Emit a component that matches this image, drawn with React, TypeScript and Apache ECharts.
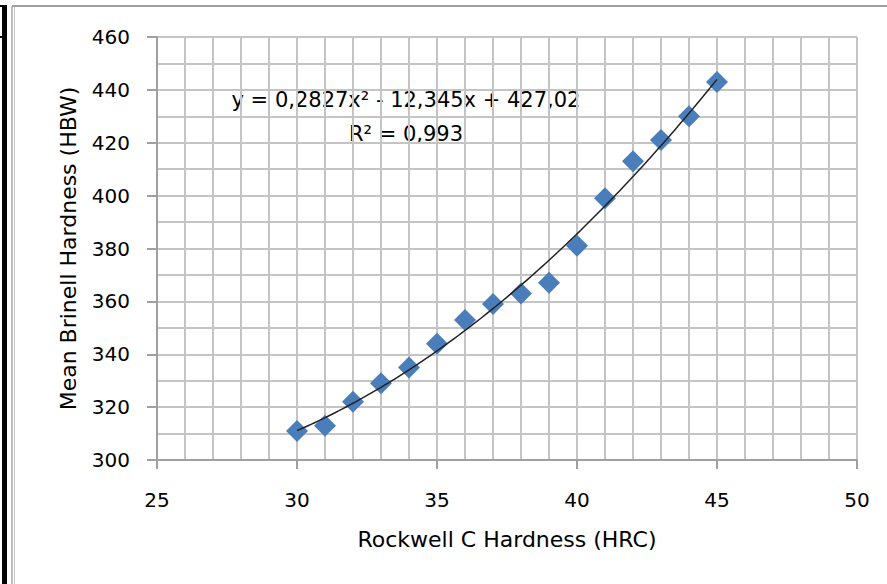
import React, { useEffect, useRef } from "react";
import * as echarts from "echarts";

const hrcValues = [30, 31, 32, 33, 34, 35, 36, 37, 38, 39, 40, 41, 42, 43, 44, 45];
const hbwValues = [311, 313, 322, 329, 335, 344, 353, 359, 363, 367, 381, 399, 413, 421, 430, 443];
// Trendline coefficients as printed on the chart (Excel polynomial fit)
const trendCoefA = 0.2827;
const trendCoefB = -12.345;
const trendCoefC = 427.02;
const equationText = "y = 0,2827x² - 12,345x + 427,02";
const r2Text = "R² = 0,993";
const xAxisTitle = "Rockwell C Hardness (HRC)";
const yAxisTitle = "Mean Brinell Hardness (HBW)";

const FONT = "DejaVu Sans";

export default function App() {
  const ref = useRef<HTMLDivElement>(null);
  useEffect(() => {
    if (!ref.current) return;
    const chart = echarts.init(ref.current, null, { renderer: "svg" });
    const xs0 = hrcValues[0];
    const xs1 = hrcValues[hrcValues.length - 1];
    const trend: number[][] = [];
    for (let i = 0; i <= 60; i++) {
      const x = xs0 + ((xs1 - xs0) * i) / 60;
      trend.push([x, trendCoefA * x * x + trendCoefB * x + trendCoefC]);
    }
    const gridColor = "#c4c4c4";
    chart.setOption({
      animation: false,
      backgroundColor: "#ffffff",
      grid: { left: 157, right: 30, top: 37, bottom: 124, containLabel: false },
      xAxis: {
        type: "value",
        min: 25,
        max: 50,
        interval: 5,
        name: xAxisTitle,
        nameLocation: "middle",
        nameGap: 68,
        nameTextStyle: { fontFamily: FONT, fontSize: 22, color: "#000" },
        axisLine: { show: true, lineStyle: { color: "#a0a0a0", width: 2 } },
        axisTick: { show: true, inside: false, length: 9, lineStyle: { color: "#a0a0a0", width: 2 } },
        axisLabel: { fontFamily: FONT, fontSize: 20, color: "#000", margin: 30 },
        splitLine: { show: true, lineStyle: { color: gridColor, width: 2 } },
        minorTick: { show: false, splitNumber: 5 },
        minorSplitLine: { show: true, lineStyle: { color: gridColor, width: 2 } },
      },
      yAxis: {
        type: "value",
        min: 300,
        max: 460,
        interval: 20,
        name: yAxisTitle,
        nameLocation: "middle",
        nameRotate: 90,
        nameGap: 78,
        nameTextStyle: { fontFamily: FONT, fontSize: 22, color: "#000" },
        axisLine: { show: true, lineStyle: { color: "#a0a0a0", width: 2 } },
        axisTick: { show: true, inside: false, length: 10, lineStyle: { color: "#a0a0a0", width: 2 } },
        axisLabel: { fontFamily: FONT, fontSize: 20, color: "#000", margin: 27 },
        splitLine: { show: true, lineStyle: { color: gridColor, width: 2 } },
        minorTick: { show: false, splitNumber: 2 },
        minorSplitLine: { show: true, lineStyle: { color: gridColor, width: 2 } },
      },
      series: [
        {
          type: "scatter",
          data: hrcValues.map((x, i) => [x, hbwValues[i]]),
          symbol: "diamond",
          symbolSize: 22,
          itemStyle: { color: "#4a7ebb", opacity: 1 },
          z: 2,
        },
        {
          type: "line",
          data: trend,
          showSymbol: false,
          symbol: "none",
          smooth: true,
          lineStyle: { color: "#222222", width: 1.5 },
          z: 3,
        },
      ],
      graphic: [
        { type: "rect", shape: { x: 2, y: 5, width: 5, height: 579 }, style: { fill: "#000" }, silent: true },
        { type: "rect", shape: { x: 0, y: 5, width: 7, height: 2 }, style: { fill: "#000" }, silent: true },
        { type: "rect", shape: { x: 0, y: 36, width: 7, height: 2 }, style: { fill: "#000" }, silent: true },
        { type: "line", shape: { x1: 12, y1: 6, x2: 12, y2: 584 }, style: { stroke: "#a8a8a8", lineWidth: 1.5 }, silent: true },
        { type: "line", shape: { x1: 14.5, y1: 6, x2: 14.5, y2: 584 }, style: { stroke: "#c8c8c8", lineWidth: 1 }, silent: true },
        { type: "line", shape: { x1: 12, y1: 6, x2: 887, y2: 6 }, style: { stroke: "#a0a0a0", lineWidth: 2 }, silent: true },
        {
          type: "text",
          x: 406,
          y: 100,
          style: { text: equationText, fontFamily: FONT, fontSize: 21, fill: "#000", align: "center", verticalAlign: "middle" },
          silent: true,
        },
        {
          type: "text",
          x: 406,
          y: 134,
          style: { text: r2Text, fontFamily: FONT, fontSize: 21, fill: "#000", align: "center", verticalAlign: "middle" },
          silent: true,
        },
      ],
    });
    return () => chart.dispose();
  }, []);
  return (
    <div
      ref={ref}
      style={{ position: "fixed", left: 0, top: 0, width: 887, height: 584, background: "#fff" }}
    />
  );
}
